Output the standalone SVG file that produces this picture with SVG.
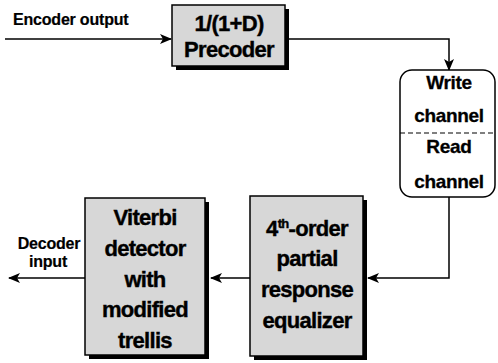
<svg xmlns="http://www.w3.org/2000/svg" width="498" height="363" viewBox="0 0 498 363">
<style>
.box{fill:#d7d7d7;stroke:#000;stroke-width:1.5}
.shadow{fill:#000}
.big{font-family:"Liberation Sans",Arial,sans-serif;font-weight:bold;font-size:22px;letter-spacing:-0.7px;text-anchor:middle;fill:#000;stroke:#000;stroke-width:0.4}
.mid{font-family:"Liberation Sans",Arial,sans-serif;font-weight:bold;font-size:19px;letter-spacing:-0.3px;text-anchor:middle;fill:#000;stroke:#000;stroke-width:0.3}
.lbl{font-family:"Liberation Sans",Arial,sans-serif;font-weight:bold;font-size:16px;letter-spacing:-0.2px;fill:#000;stroke:#000;stroke-width:0.2}
.wire{fill:none;stroke:#000;stroke-width:1.5}
</style>
<defs>
<marker id="arr" viewBox="0 0 12 10" refX="11" refY="5" markerWidth="12" markerHeight="10" markerUnits="userSpaceOnUse" orient="auto">
<path d="M0,0 L12,5 L0,10 L3,5 Z" fill="#000"/>
</marker>
</defs>
<rect width="498" height="363" fill="#fff"/>
<g id="connectors">
<path class="wire" d="M5,39 H171" marker-end="url(#arr)"/>
<path class="wire" d="M288,39 H449 V70" marker-end="url(#arr)"/>
<path class="wire" d="M449,197 V278 H368" marker-end="url(#arr)"/>
<path class="wire" d="M250,278 H211" marker-end="url(#arr)"/>
<path class="wire" d="M85,278 H9" marker-end="url(#arr)"/>
</g>
<g id="label-encoder">
<text class="lbl" x="13" y="25">Encoder output</text>
</g>
<g id="label-decoder">
<text class="lbl" x="49" y="249" text-anchor="middle">Decoder</text>
<text class="lbl" x="48" y="267" text-anchor="middle">input</text>
</g>
<g id="precoder">
<rect class="shadow" x="176" y="9" width="113" height="61"/>
<rect class="box" x="172" y="5" width="113" height="61"/>
<text class="big" x="229" y="31">1/(1+D)</text>
<text class="big" x="229" y="57">Precoder</text>
</g>
<g id="channel">
<rect x="400" y="70" width="95" height="127" rx="12" ry="12" fill="#fff" stroke="#000" stroke-width="1.5"/>
<line x1="400" y1="133" x2="495" y2="133" stroke="#000" stroke-width="1.2" stroke-dasharray="5,3"/>
<text class="mid" x="449" y="89">Write</text>
<text class="mid" x="449" y="122">channel</text>
<text class="mid" x="449" y="153">Read</text>
<text class="mid" x="449" y="188">channel</text>
</g>
<g id="equalizer">
<rect class="shadow" x="254" y="200" width="113" height="160"/>
<rect class="box" x="250" y="196" width="113" height="160"/>
<text class="big" x="307" y="236">4<tspan font-size="13" dy="-8">th</tspan><tspan dy="8">-order</tspan></text>
<text class="big" x="307" y="266">partial</text>
<text class="big" x="307" y="297">response</text>
<text class="big" x="307" y="328">equalizer</text>
</g>
<g id="viterbi">
<rect class="shadow" x="89" y="202" width="120" height="157"/>
<rect class="box" x="85" y="198" width="120" height="157"/>
<text class="big" x="145" y="225">Viterbi</text>
<text class="big" x="145" y="256">detector</text>
<text class="big" x="145" y="287">with</text>
<text class="big" x="145" y="317">modified</text>
<text class="big" x="145" y="348">trellis</text>
</g>
</svg>
